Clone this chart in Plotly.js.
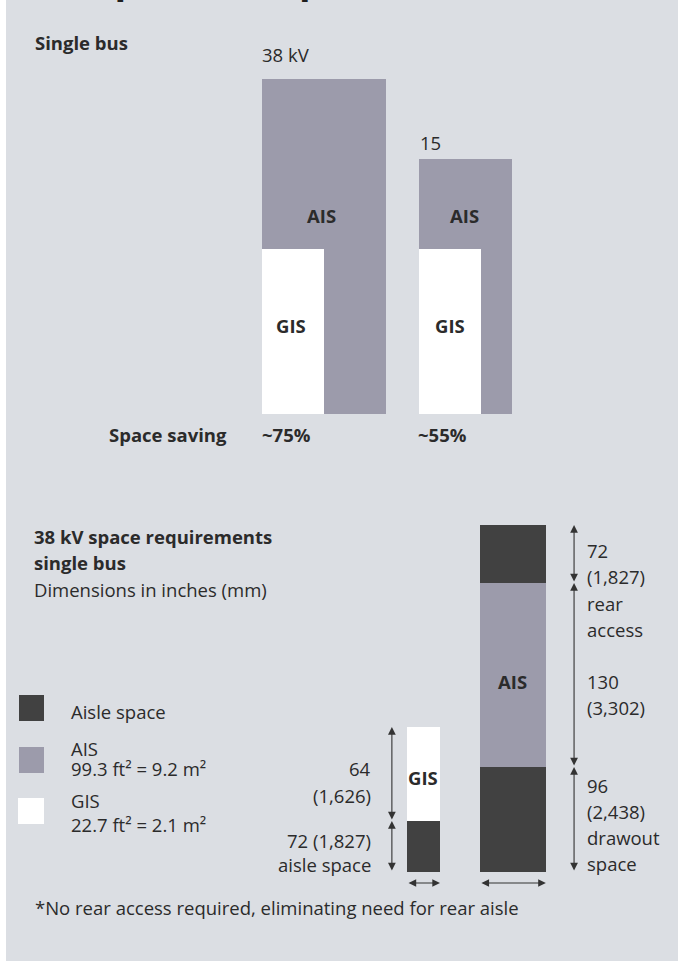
<!DOCTYPE html>
<html><head><meta charset="utf-8">
<script src="https://cdn.plot.ly/plotly-3.0.1.min.js"></script>
<style>html,body{margin:0;padding:0;background:#fff;} #chart{width:678px;height:961px;}</style>
</head><body><div id="chart"></div>
<script>
// ---------------- data ----------------
// Top: single-bus footprint (inches), AIS vs GIS
const topGroups = ['38 kV', '15'];
const topSaving = ['~75%', '~55%'];
const aisWidthIn = [48, 36];
const aisDepthIn = [130, 99];
const gisWidthIn = [24, 24];
const gisDepthIn = [64, 64];

// Bottom: 38 kV space requirements (schematic drawing units)
const reqCategories = ['GIS', 'AIS'];
const reqWidthIn = [24, 48];
const gisSegNames = ['aisle space', 'GIS'];
const gisSegDrawn = [51, 94];
const gisSegLabels = [['72 (1,827)', 'aisle space'], ['64', '(1,626)']];
const aisSegNames = ['drawout space', 'AIS', 'rear access'];
const aisSegDrawn = [105, 184, 58];
const aisSegLabels = [['96', '(2,438)', 'drawout', 'space'], ['130', '(3,302)'], ['72', '(1,827)', 'rear', 'access']];
const legendNames = ['Aisle space', 'AIS', 'GIS'];
const legendAreas = ['', '99.3 ft² = 9.2 m²', '22.7 ft² = 2.1 m²'];
const footnote = '*No rear access required, eliminating need for rear aisle';

// ---------------- styling / layout constants ----------------
const W = 678, H = 961;
const FONT = '"Open Sans", "Noto Sans", sans-serif';
const FS = 18.5;
const TXT = '#2b2b2b';
const BG = '#dbdee3';
const AIS_C = '#9c9bab';
const DARK = '#414141';
const GIS_C = '#ffffff';

// top subplot mapping
const X0 = 262, K1 = 2.58, YB1 = 414, SPLIT = 470;
const groupOffsetIn = [0, 61];
// bottom subplot mapping
const X0b = 407, K2 = 1.375, YB2 = 872;
const reqOffsetIn = [0, 53];

const gisBase = gisSegDrawn.map((v, i) => gisSegDrawn.slice(0, i).reduce((s, t) => s + t, 0));
const aisBase = aisSegDrawn.map((v, i) => aisSegDrawn.slice(0, i).reduce((s, t) => s + t, 0));

const barCommon = {type: 'bar', offset: 0, hoverinfo: 'skip', showlegend: false};
const traces = [
  Object.assign({}, barCommon, {x: groupOffsetIn, y: aisDepthIn, base: [0, 0], width: aisWidthIn,
    marker: {color: AIS_C, line: {width: 0}}, xaxis: 'x', yaxis: 'y'}),
  Object.assign({}, barCommon, {x: groupOffsetIn, y: gisDepthIn, base: [0, 0], width: gisWidthIn,
    marker: {color: GIS_C, line: {width: 0}}, xaxis: 'x', yaxis: 'y'}),
  Object.assign({}, barCommon, {x: reqOffsetIn, y: [gisSegDrawn[0], aisSegDrawn[0]], base: [gisBase[0], aisBase[0]], width: reqWidthIn,
    marker: {color: DARK, line: {width: 0}}, xaxis: 'x2', yaxis: 'y2'}),
  Object.assign({}, barCommon, {x: [reqOffsetIn[0]], y: [gisSegDrawn[1]], base: [gisBase[1]], width: [reqWidthIn[0]],
    marker: {color: GIS_C, line: {width: 0}}, xaxis: 'x2', yaxis: 'y2'}),
  Object.assign({}, barCommon, {x: [reqOffsetIn[1]], y: [aisSegDrawn[1]], base: [aisBase[1]], width: [reqWidthIn[1]],
    marker: {color: AIS_C, line: {width: 0}}, xaxis: 'x2', yaxis: 'y2'}),
  Object.assign({}, barCommon, {x: [reqOffsetIn[1]], y: [aisSegDrawn[2]], base: [aisBase[2]], width: [reqWidthIn[1]],
    marker: {color: DARK, line: {width: 0}}, xaxis: 'x2', yaxis: 'y2'})
];

function T(x, y, text, o) {
  return Object.assign({xref: 'paper', yref: 'paper', x: x / W, y: 1 - y / H, text: text, showarrow: false,
    xanchor: 'left', yanchor: 'middle', font: {family: FONT, size: FS, color: TXT}}, o || {});
}
const ann = [];
// cut-off title fragment at very top (only descenders visible)
ann.push(T(28, 6, '<b>Footprint comparison</b>', {yanchor: 'bottom', font: {family: FONT, size: 38, color: '#1e1e1e'}}));
// top section
ann.push(T(33, 42, '<b>Single bus</b>'));
ann.push(T(260, 55, topGroups[0]));
ann.push(T(418, 142, topGroups[1]));
ann.push(T(321, 215, '<b>AIS</b>', {xanchor: 'center'}));
ann.push(T(464, 215, '<b>AIS</b>', {xanchor: 'center'}));
ann.push(T(291, 325, '<b>GIS</b>', {xanchor: 'center'}));
ann.push(T(450, 325, '<b>GIS</b>', {xanchor: 'center'}));
ann.push(T(229, 434, '<b>Space saving</b>', {xanchor: 'right'}));
ann.push(T(260, 434, '<b>' + topSaving[0] + '</b>'));
ann.push(T(416, 434, '<b>' + topSaving[1] + '</b>'));
// bottom heading
ann.push(T(32, 536, '<b>38 kV space requirements</b>'));
ann.push(T(32, 562, '<b>single bus</b>'));
ann.push(T(32, 589, 'Dimensions in inches (mm)'));
// legend
ann.push(T(69, 711, legendNames[0]));
ann.push(T(69, 748, legendNames[1]));
ann.push(T(69, 768, legendAreas[1]));
ann.push(T(69, 800, legendNames[2]));
ann.push(T(69, 824, legendAreas[2]));
// GIS dimension labels (right aligned)
ann.push(T(373, 768, gisSegLabels[1][0], {xanchor: 'right'}));
ann.push(T(373, 795, gisSegLabels[1][1], {xanchor: 'right'}));
ann.push(T(373, 840, gisSegLabels[0][0], {xanchor: 'right'}));
ann.push(T(373, 864, gisSegLabels[0][1], {xanchor: 'right'}));
ann.push(T(423, 777, '<b>GIS</b>', {xanchor: 'center'}));
ann.push(T(512, 681, '<b>AIS</b>', {xanchor: 'center'}));
// AIS dimension labels
const rightLines = [[550, aisSegLabels[2][0]], [576, aisSegLabels[2][1]], [603, aisSegLabels[2][2]], [629, aisSegLabels[2][3]],
  [681, aisSegLabels[1][0]], [707, aisSegLabels[1][1]],
  [785, aisSegLabels[0][0]], [811, aisSegLabels[0][1]], [837, aisSegLabels[0][2]], [863, aisSegLabels[0][3]]];
rightLines.forEach(l => ann.push(T(585, l[0], l[1])));
ann.push(T(33, 907, footnote));

function arrow(x, y, ax, ay) {
  return {xref: 'x2', yref: 'y2', axref: 'x2', ayref: 'y2', x: x, y: y, ax: ax, ay: ay, text: '', showarrow: true,
    arrowside: 'end+start', arrowhead: 2, startarrowhead: 2, arrowsize: 1.4, startarrowsize: 1.4, arrowwidth: 1.1,
    arrowcolor: '#333', standoff: 0, startstandoff: 0};
}
const gisArrowX = -11, aisArrowX = 121.5, widthArrowY = -11;
gisSegDrawn.forEach((h, i) => ann.push(arrow(gisArrowX, gisBase[i] + h, gisArrowX, gisBase[i])));
aisSegDrawn.forEach((h, i) => ann.push(arrow(aisArrowX, aisBase[i] + h, aisArrowX, aisBase[i])));
reqWidthIn.forEach((w, i) => ann.push(arrow(reqOffsetIn[i] + w, widthArrowY, reqOffsetIn[i], widthArrowY)));

const shapes = [
  {type: 'rect', xref: 'paper', yref: 'paper', x0: 6 / W, x1: 1, y0: 0, y1: 1, fillcolor: BG, line: {width: 0}, layer: 'below'},
  {type: 'rect', xref: 'paper', yref: 'paper', x0: 19 / W, x1: 44 / W, y0: 1 - 721 / H, y1: 1 - 695 / H, fillcolor: DARK, line: {width: 0}},
  {type: 'rect', xref: 'paper', yref: 'paper', x0: 19 / W, x1: 44 / W, y0: 1 - 773 / H, y1: 1 - 747 / H, fillcolor: AIS_C, line: {width: 0}},
  {type: 'rect', xref: 'paper', yref: 'paper', x0: 18 / W, x1: 44 / W, y0: 1 - 824 / H, y1: 1 - 798 / H, fillcolor: GIS_C, line: {width: 0}}
];

const hidden = {visible: false, fixedrange: true, showgrid: false, zeroline: false};
const layout = {
  width: W, height: H, margin: {l: 0, r: 0, t: 0, b: 0},
  paper_bgcolor: '#ffffff', plot_bgcolor: 'rgba(0,0,0,0)',
  barmode: 'overlay', bargap: 0, showlegend: false,
  xaxis: Object.assign({domain: [0, 1], range: [-X0 / K1, (W - X0) / K1], anchor: 'y'}, hidden),
  yaxis: Object.assign({domain: [1 - SPLIT / H, 1], range: [-(SPLIT - YB1) / K1, YB1 / K1], anchor: 'x'}, hidden),
  xaxis2: Object.assign({domain: [0, 1], range: [-X0b / K2, (W - X0b) / K2], anchor: 'y2'}, hidden),
  yaxis2: Object.assign({domain: [0, 1 - SPLIT / H], range: [-(H - YB2), YB2 - SPLIT], anchor: 'x2'}, hidden),
  annotations: ann, shapes: shapes
};
Plotly.newPlot('chart', traces, layout, {staticPlot: true, displayModeBar: false});
</script></body></html>
